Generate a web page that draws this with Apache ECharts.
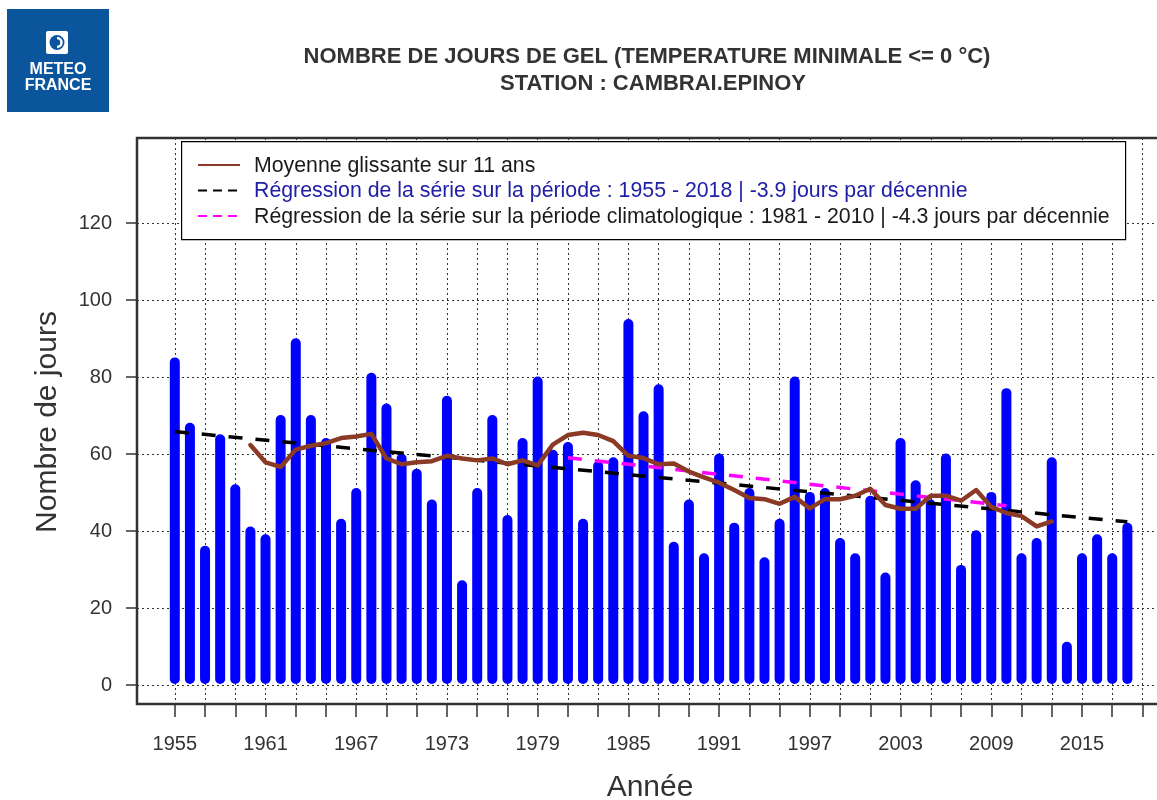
<!DOCTYPE html>
<html>
<head>
<meta charset="utf-8">
<script src="https://cdn.jsdelivr.net/npm/echarts@6/dist/echarts.min.js"></script>
<style>
html,body{margin:0;padding:0;background:#fff;}
#chart{width:1157px;height:800px;}
</style>
</head>
<body>
<div id="chart"></div>
<script>
// ---- DATA ----
const years = [1955,1956,1957,1958,1959,1960,1961,1962,1963,1964,1965,1966,1967,1968,1969,1970,1971,1972,1973,1974,
  1975,1976,1977,1978,1979,1980,1981,1982,1983,1984,1985,1986,1987,1988,1989,1990,1991,1992,1993,1994,
  1995,1996,1997,1998,1999,2000,2001,2002,2003,2004,2005,2006,2007,2008,2009,2010,2011,2012,2013,2014,
  2015,2016,2017,2018];
const frostDays = [85,68,36,65,52,41,39,70,90,70,64,43,51,81,73,60,56,48,75,27,
  51,70,44,64,80,61,63,43,58,59,95,71,78,37,48,34,60,42,51,33,
  43,80,50,51,38,34,49,29,64,53,48,60,31,40,50,77,34,38,59,11,
  34,39,34,42];
const maYears = [1960,1961,1962,1963,1964,1965,1966,1967,1968,1969,1970,1971,1972,1973,1974,1975,1976,1977,1978,1979,
  1980,1981,1982,1983,1984,1985,1986,1987,1988,1989,1990,1991,1992,1993,1994,1995,1996,1997,1998,1999,
  2000,2001,2002,2003,2004,2005,2006,2007,2008,2009,2010,2011,2012,2013];
const movingAvg = [62.2,57.7,56.5,61.0,62.0,62.7,64.0,64.4,65.1,58.7,57.2,57.7,58.0,59.4,58.7,58.2,58.7,57.2,58.2,56.9,
  62.3,64.8,65.4,64.8,63.2,59.4,58.8,57.2,57.4,55.3,53.8,52.4,50.5,48.4,48.1,46.9,48.7,45.7,48.1,48.1,
  49.0,50.8,46.6,45.6,45.6,49.0,49.0,47.7,50.5,46.1,44.5,43.7,41.0,42.3];
const trendYears = [1955, 2018];
const trendValues = [65.7, 42.2];
const climYears = [1981, 2010];
const climValues = [58.9, 46.4];
const yTickMax = 120, yTickStep = 20;
const xTickStep = 2, xLabelStep = 6;
const firstTickYear = 1955, lastTickYear = 2019;

const titleLines = ['NOMBRE DE JOURS DE GEL (TEMPERATURE MINIMALE <= 0 °C)', 'STATION : CAMBRAI.EPINOY'];
const legendLabels = [
  'Moyenne glissante sur 11 ans',
  'Régression de la série sur la période : 1955 - 2018 | -3.9 jours par décennie',
  'Régression de la série sur la période climatologique : 1981 - 2010 | -4.3 jours par décennie'
];
const yName = 'Nombre de jours';
const xName = 'Année';

// ---- CHART ----
const FONT = '"Liberation Sans", Arial, sans-serif';
const chart = echarts.init(document.getElementById('chart'), null, {renderer: 'canvas'});

const dotted = {color: '#333', width: 1, type: [2, 3]};
const PX_PER_YEAR = 15.12;

const option = {
  animation: false,
  backgroundColor: '#fff',
  grid: [
    // data grid (plot box)
    {left: 137, width: 68 * PX_PER_YEAR, top: 138, bottom: 96, show: true, borderColor: '#333', borderWidth: 2.5,
      backgroundColor: 'transparent', z: 3, outerBoundsMode: 'none', containLabel: false},
    // x ticks / vertical grid
    {left: 137 + 2.5 * PX_PER_YEAR, width: 64 * PX_PER_YEAR, top: 138, bottom: 96, outerBoundsMode: 'none', containLabel: false},
    // y ticks / horizontal grid
    {left: 137, width: 68 * PX_PER_YEAR, top: 223, bottom: 115, outerBoundsMode: 'none', containLabel: false}
  ],
  xAxis: [
    {gridIndex: 0, type: 'value', min: 1952.5, max: 2020.5, axisLine: {show: false}, axisTick: {show: false}, axisLabel: {show: false}, splitLine: {show: false}},
    {gridIndex: 1, type: 'value', min: 0, max: lastTickYear - firstTickYear, interval: xTickStep,
      axisLine: {show: false},
      axisTick: {show: true, inside: false, length: 13, lineStyle: {color: '#333', width: 1.5}},
      axisLabel: {show: true, margin: 30, color: '#333', fontSize: 20, fontFamily: FONT,
        formatter: v => (v % xLabelStep === 0 ? String(v + firstTickYear) : '')},
      splitLine: {show: true, lineStyle: dotted}},
    {gridIndex: 2, type: 'value', min: 0, max: 1, show: false}
  ],
  yAxis: [
    {gridIndex: 0, type: 'value', min: -5.2, max: 142.1, axisLine: {show: false}, axisTick: {show: false}, axisLabel: {show: false}, splitLine: {show: false}},
    {gridIndex: 1, type: 'value', min: 0, max: 1, show: false},
    {gridIndex: 2, type: 'value', min: 0, max: yTickMax, interval: yTickStep,
      axisLine: {show: false},
      axisTick: {show: true, inside: false, length: 11, lineStyle: {color: '#333', width: 1.5}},
      axisLabel: {show: true, margin: 25, color: '#333', fontSize: 20, fontFamily: FONT},
      splitLine: {show: true, lineStyle: dotted}}
  ],
  series: [
    {
      name: 'frost', type: 'bar', xAxisIndex: 0, yAxisIndex: 0,
      data: years.map((y, i) => [y, frostDays[i]]),
      barWidth: 10,
      itemStyle: {color: '#0000ff', borderRadius: 5},
      z: 2
    },
    {
      name: 'trend', type: 'line', xAxisIndex: 0, yAxisIndex: 0,
      data: trendYears.map((y, i) => [y, trendValues[i]]),
      symbol: 'none',
      lineStyle: {color: '#000', width: 3.5, type: [14, 13], cap: 'butt'},
      z: 4
    },
    {
      name: 'clim', type: 'line', xAxisIndex: 0, yAxisIndex: 0,
      data: climYears.map((y, i) => [y, climValues[i]]),
      symbol: 'none',
      lineStyle: {color: '#ff00ff', width: 3.5, type: [14, 13], cap: 'butt'},
      z: 4
    },
    {
      name: 'ma', type: 'line', xAxisIndex: 0, yAxisIndex: 0,
      data: maYears.map((y, i) => [y, movingAvg[i]]),
      symbol: 'none',
      lineStyle: {color: '#8b3a26', width: 4.5, join: 'round', cap: 'round'},
      z: 5
    }
  ],
  graphic: [
    // logo
    {type: 'rect', left: 7, top: 9, shape: {width: 102, height: 103}, style: {fill: '#0b559c'}, z: 10},
    {type: 'rect', left: 46, top: 31, shape: {width: 22, height: 23, r: 2}, style: {fill: '#fff'}, z: 11},
    {type: 'circle', shape: {cx: 57, cy: 42.5, r: 7.5}, style: {fill: '#0b559c'}, z: 12},
    {type: 'arc', shape: {cx: 57, cy: 42.5, r: 4.5, startAngle: -Math.PI / 2, endAngle: Math.PI / 2, clockwise: true}, style: {stroke: '#fff', lineWidth: 2.5, fill: null}, z: 13},
    {type: 'text', x: 58, y: 70, style: {text: 'METEO', fill: '#fff', font: 'bold 16px ' + FONT, align: 'center', verticalAlign: 'middle'}, z: 12},
    {type: 'text', x: 58, y: 86, style: {text: 'FRANCE', fill: '#fff', font: 'bold 16px ' + FONT, align: 'center', verticalAlign: 'middle'}, z: 12},
    // title
    {type: 'text', x: 647, y: 57, style: {text: titleLines[0], fill: '#333', font: 'bold 22px ' + FONT, align: 'center', verticalAlign: 'middle'}, z: 10},
    {type: 'text', x: 653, y: 84, style: {text: titleLines[1], fill: '#333', font: 'bold 22px ' + FONT, align: 'center', verticalAlign: 'middle'}, z: 10},
    // axis titles
    {type: 'text', x: 48, y: 422, rotation: Math.PI / 2, style: {text: yName, fill: '#333', font: '30px ' + FONT, align: 'center', verticalAlign: 'middle'}, z: 10},
    {type: 'text', x: 650, y: 788, style: {text: xName, fill: '#333', font: '30px ' + FONT, align: 'center', verticalAlign: 'middle'}, z: 10},
    // legend box
    {type: 'rect', left: 181, top: 141, shape: {width: 944, height: 98}, style: {fill: '#fff', stroke: '#000', lineWidth: 1.2}, z: 20},
    {type: 'line', shape: {x1: 198, y1: 165, x2: 240, y2: 165}, style: {stroke: '#8b3a26', lineWidth: 2}, z: 21},
    {type: 'line', shape: {x1: 198, y1: 190.5, x2: 240, y2: 190.5}, style: {stroke: '#000', lineWidth: 2, lineDash: [9, 6]}, z: 21},
    {type: 'line', shape: {x1: 198, y1: 216, x2: 240, y2: 216}, style: {stroke: '#ff00ff', lineWidth: 2, lineDash: [9, 6]}, z: 21},
    {type: 'text', x: 254, y: 166, style: {text: legendLabels[0], fill: '#1a1a1a', font: '21.3px ' + FONT, verticalAlign: 'middle'}, z: 21},
    {type: 'text', x: 254, y: 191.5, style: {text: legendLabels[1], fill: '#2020a6', font: '21.3px ' + FONT, verticalAlign: 'middle'}, z: 21},
    {type: 'text', x: 254, y: 217, style: {text: legendLabels[2], fill: '#1a1a1a', font: '21.3px ' + FONT, verticalAlign: 'middle'}, z: 21}
  ]
};
chart.setOption(option);
</script>
</body>
</html>
